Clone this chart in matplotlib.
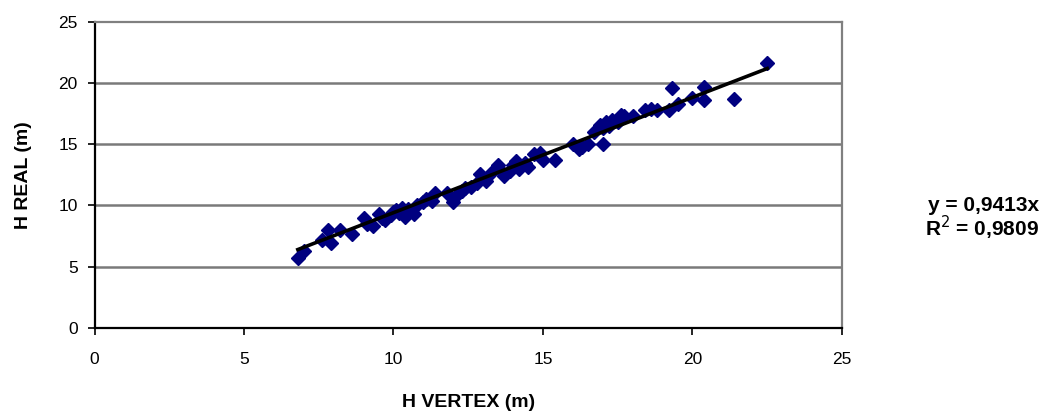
import matplotlib
matplotlib.use("Agg")
import matplotlib.pyplot as plt

# Tree heights: hypsometer (Vertex) reading vs measured height, in metres
h_vertex = [6.8, 7.0, 7.6, 7.8, 7.9, 8.2, 8.6, 9.0, 9.1, 9.3, 9.5, 9.6, 9.7, 9.9,
            10.0, 10.1, 10.2, 10.3, 10.4, 10.5, 10.7, 10.8, 11.0, 11.1, 11.3, 11.4,
            11.8, 12.0, 12.1, 12.3, 12.4, 12.6, 12.8, 12.9, 13.1, 13.3, 13.5, 13.6,
            13.7, 13.9, 14.0, 14.1, 14.2, 14.4, 14.5, 14.7, 14.9, 15.0, 15.4, 16.0,
            16.2, 16.3, 16.5, 16.7, 16.9, 17.0, 17.0, 17.1, 17.2, 17.3, 17.5, 17.6,
            17.7, 18.0, 18.4, 18.6, 18.8, 19.2, 19.3, 19.5, 20.0, 20.4, 20.4, 21.4,
            22.5]
h_real = [5.7, 6.3, 7.2, 8.0, 6.9, 8.0, 7.7, 9.0, 8.5, 8.3, 9.3, 9.0, 8.8, 9.2,
          9.5, 9.6, 9.4, 9.8, 9.1, 9.7, 9.3, 10.0, 10.3, 10.5, 10.4, 11.0,
          11.0, 10.3, 10.8, 11.2, 11.4, 11.5, 11.8, 12.6, 12.0, 12.7, 13.3, 12.8,
          12.4, 12.8, 13.3, 13.6, 13.0, 13.5, 13.1, 14.2, 14.3, 13.7, 13.7, 15.0,
          14.6, 14.8, 15.0, 16.0, 16.6, 16.3, 15.0, 16.8, 16.5, 17.0, 16.8, 17.4,
          17.3, 17.3, 17.8, 17.9, 17.8, 17.8, 19.6, 18.3, 18.8, 19.7, 18.6, 18.7,
          21.6]

# Regression through the origin
slope = 0.9413
r_squared = 0.9809

x_ticks = [0, 5, 10, 15, 20, 25]
y_ticks = [0, 5, 10, 15, 20, 25]

plt.rcParams['font.family'] = ['Liberation Sans', 'DejaVu Sans']

fig = plt.figure(figsize=(10.5, 4.19), dpi=100)
ax = fig.add_axes([0.09, 0.2172, 0.7119, 0.731])

ax.set_xlim(0, 25)
ax.set_ylim(0, 25)

for y in y_ticks[1:-1]:
    ax.axhline(y, color='#7a7a7a', lw=1.8, zorder=1)

ax.plot(h_vertex, h_real, linestyle='none', marker='D', markersize=7.5,
        color='#000080', markeredgecolor='#000080', zorder=3)

x0, x1 = min(h_vertex), max(h_vertex)
ax.plot([x0, x1], [slope * x0, slope * x1], color='black', lw=2.6, zorder=4)

ax.set_xticks(x_ticks)
ax.set_yticks(y_ticks)
ax.tick_params(direction='out', length=5, width=1.2, colors='black',
               labelsize=12.5, pad=7)
ax.tick_params(axis='x', pad=12)

for side in ('left', 'bottom'):
    ax.spines[side].set_color('black')
    ax.spines[side].set_linewidth(1.6)
for side in ('top', 'right'):
    ax.spines[side].set_color('#808080')
    ax.spines[side].set_linewidth(1.6)

ax.set_xlabel('H VERTEX (m)', fontsize=14, fontweight='bold', labelpad=20)
ax.set_ylabel('H REAL (m)', fontsize=14, fontweight='bold', labelpad=19)

eq = f"y = {slope:.4f}x".replace('.', ',')
r2 = f"R$^2$ = {r_squared:.4f}".replace('.', ',')
fig.text(0.99, 0.51, eq, ha='right', va='center', fontsize=15, fontweight='bold')
fig.text(0.99, 0.455, r2, ha='right', va='center', fontsize=15, fontweight='bold')

fig.savefig('out.png', dpi=100)
